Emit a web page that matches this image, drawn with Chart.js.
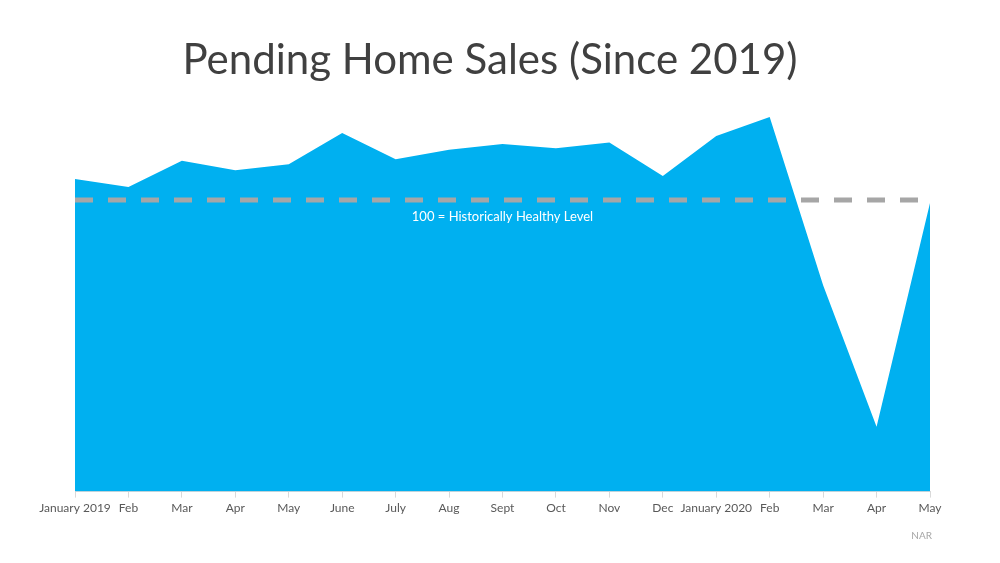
<!DOCTYPE html>
<html>
<head>
<meta charset="utf-8">
<script src="https://cdn.jsdelivr.net/npm/chart.js@4/dist/chart.umd.min.js"></script>
<style>
  html, body { margin: 0; padding: 0; background: #fff; }
  #wrap { width: 1000px; height: 563px; }
</style>
</head>
<body>
<div id="wrap"><canvas id="salesChart" width="1000" height="563"></canvas></div>
<script>
// ===== Data =====
const months = ["January 2019", "Feb", "Mar", "Apr", "May", "June", "July", "Aug",
    "Sept", "Oct", "Nov", "Dec", "January 2020", "Feb", "Mar", "Apr", "May"];
const pendingIndex = [102.9, 101.8, 105.4, 104.1, 104.9, 109.2, 105.6, 106.9,
    107.7, 107.1, 107.9, 103.3, 108.8, 111.4, 88.3, 68.9, 99.6];
const healthyLevel = months.map(() => 100);
const chartTitle = "Pending Home Sales (Since 2019)";
const healthyLabel = "100 = Historically Healthy Level";
const sourceLabel = "NAR";

// draws the title, the reference label and the source note
const notesPlugin = {
    id: "notes",
    afterDatasetsDraw(chart) {
        const ctx = chart.ctx;
        const area = chart.chartArea;
        const y = chart.scales.y.getPixelForValue(100);
        ctx.save();
        ctx.textBaseline = "middle";

        ctx.fillStyle = "#404040";
        ctx.font = "42px Lato";
        ctx.textAlign = "center";
        ctx.fillText(chartTitle, 490, 60);

        ctx.fillStyle = "#ffffff";
        ctx.font = "13px Lato";
        ctx.fillText(healthyLabel, (area.left + area.right) / 2, y + 17);

        ctx.fillStyle = "#a6a6a6";
        ctx.font = "10px Lato";
        ctx.textAlign = "right";
        ctx.fillText(sourceLabel, area.right + 2, 536);
        ctx.restore();
    }
};

const ctx = document.getElementById("salesChart").getContext("2d");
new Chart(ctx, {
    type: "line",
    data: {
        labels: months,
        datasets: [{
            data: healthyLevel,
            borderColor: "#a6a6a6",
            borderWidth: 5,
            borderDash: [18, 15],
            pointRadius: 0,
            fill: false,
            order: 0
        }, {
            data: pendingIndex,
            backgroundColor: "#00b0f0",
            borderWidth: 0,
            pointRadius: 0,
            tension: 0,
            fill: "start",
            order: 1
        }]
    },
    options: {
        responsive: false,
        animation: false,
        layout: {
            padding: { left: 75, right: 70, top: 98, bottom: 45 }
        },
        plugins: {
            legend: { display: false },
            tooltip: { enabled: false },
            title: { display: false }
        },
        scales: {
            x: {
                offset: false,
                grid: {
                    drawOnChartArea: false,
                    drawTicks: true,
                    tickLength: 6,
                    color: "#d9d9d9"
                },
                border: { display: true, color: "#d9d9d9" },
                ticks: {
                    autoSkip: false,
                    maxRotation: 0,
                    padding: 3,
                    color: "#595959",
                    font: { family: "Lato", size: 12 }
                }
            },
            y: {
                display: false,
                min: 60,
                max: 114
            }
        }
    },
    plugins: [notesPlugin]
});
</script>
</body>
</html>
